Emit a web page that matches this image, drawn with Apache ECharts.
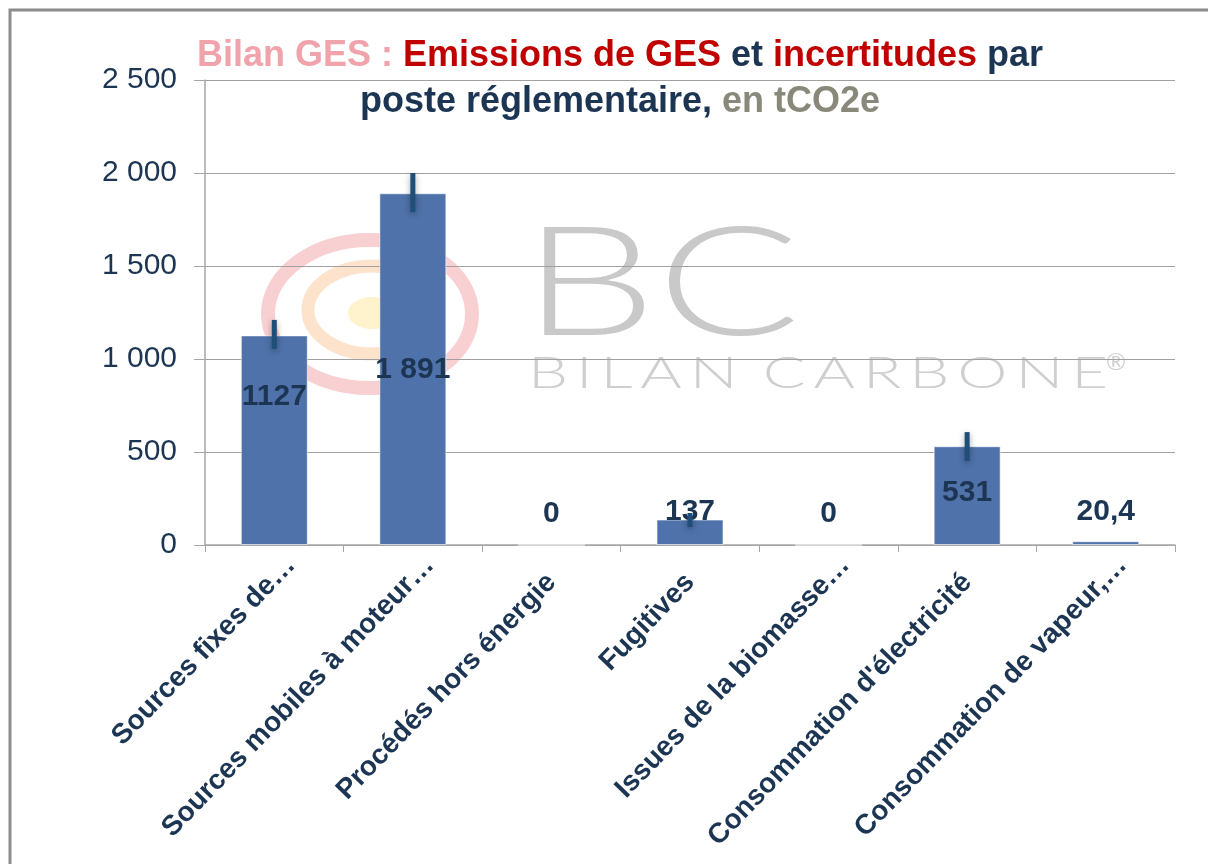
<!DOCTYPE html>
<html>
<head>
<meta charset="utf-8">
<title>Bilan GES</title>
<script src="https://cdn.jsdelivr.net/npm/echarts@6/dist/echarts.min.js"></script>
<style>
  html, body { margin: 0; padding: 0; background: #fff; }
  #main { width: 1208px; height: 864px; }
</style>
</head>
<body>
<div id="main"></div>
<script>
var categories = ['Sources fixes de…', 'Sources mobiles à moteur…', 'Procédés hors énergie', 'Fugitives',
    'Issues de la biomasse…', "Consommation d'électricité", 'Consommation de vapeur,…'];
var emissions = [1127, 1891, 0, 137, 0, 531, 20.4];
var labelTexts = ['1127', '1 891', '0', '137', '0', '531', '20,4'];
var errLow = [73, 101, 0, 40, 0, 79, 0];
var errHigh = [83, 109, 0, 35, 0, 76, 0];
var yTicks = [0, 500, 1000, 1500, 2000, 2500];

// placement des etiquettes (comme sur l'original, bougees a la main)
var labelPlace = [
    {position: 'insideTop', distance: 46},
    {position: 'insideTop', distance: 161},
    {position: 'top', distance: 16},
    {position: 'top', distance: -7},
    {position: 'top', distance: 16},
    {position: 'insideTop', distance: 32},
    {position: 'top', distance: 14}
];

var navy = '#1C3553';

var barData = emissions.map(function (v, i) {
    return {
        value: v,
        label: {
            position: labelPlace[i].position,
            distance: labelPlace[i].distance,
            formatter: labelTexts[i]
        }
    };
});

// les libelles tronques par Excel sont un peu decales vers la droite
var axisData = categories.map(function (c) {
    if (c.slice(-1) === '…') {
        return {value: c, textStyle: {padding: [0, -24, 0, 0]}};
    }
    return c;
});

var errData = [];
emissions.forEach(function (v, i) {
    if (errLow[i] > 0 || errHigh[i] > 0) {
        errData.push([i, v - errLow[i], v + errHigh[i]]);
    }
});

var myChart = echarts.init(document.getElementById('main'));
var titleFont = {fontSize: 36, fontWeight: 'bold', fontFamily: 'Liberation Sans', lineHeight: 46};
var option = {
    backgroundColor: '#fff',
    animation: false,
    title: {
        left: 615,
        top: 28,
        textAlign: 'center',
        text: '{a|Bilan GES : }{b|Emissions de GES}{c| et }{b|incertitudes}{c| par}\n{c|poste réglementaire, }{d|en tCO2e}',
        textStyle: {
            rich: {
                a: Object.assign({color: '#F0A3AB'}, titleFont),
                b: Object.assign({color: '#C00000'}, titleFont),
                c: Object.assign({color: navy}, titleFont),
                d: Object.assign({color: '#8A887A'}, titleFont)
            }
        },
        z: 10
    },
    graphic: [
        // cadre
        {type: 'rect', shape: {x: 10, y: 10, width: 1400, height: 1000},
            style: {fill: 'none', stroke: '#8C8C8C', lineWidth: 3}, z: -5},
        // logo en filigrane
        {type: 'ellipse', shape: {cx: 370, cy: 314, rx: 102, ry: 74},
            style: {fill: 'none', stroke: 'rgba(238,120,125,0.35)', lineWidth: 14}, z: -5},
        {type: 'ellipse', shape: {cx: 372, cy: 310, rx: 64, ry: 44},
            style: {fill: 'none', stroke: 'rgba(248,175,105,0.35)', lineWidth: 13}, z: -5},
        {type: 'ellipse', shape: {cx: 372, cy: 313, rx: 24, ry: 16},
            style: {fill: 'rgba(255,225,130,0.4)'}, z: -5},
        {type: 'text', x: 522, y: 210, scaleX: 1.4, z: -5,
            style: {text: 'BC', fontSize: 152, fontWeight: 300, fontFamily: 'Lato', fill: '#C9C9C9'}},
        {type: 'text', x: 528, y: 352, scaleX: 1.44, z: -5,
            style: {text: 'B\u2009I\u2009L\u2009A\u2009N\u2009 C\u2009A\u2009R\u2009B\u2009O\u2009N\u2009E', fontSize: 44, fontWeight: 300, fontFamily: 'Lato', fill: '#CFCFCF'}},
        {type: 'text', x: 1106, y: 350, z: -5,
            style: {text: '®', fontSize: 24, fontFamily: 'Lato', fill: '#CFCFCF'}}
    ],
    grid: {
        left: 205,
        right: 33,
        top: 80,
        bottom: 319
    },
    xAxis: {
        type: 'category',
        data: axisData,
        axisLine: {lineStyle: {color: '#A6A6A6', width: 1.5}},
        axisTick: {show: true, length: 7, lineStyle: {color: '#A6A6A6'}},
        axisLabel: {
            interval: 0,
            rotate: 46,
            margin: 33,
            color: navy,
            fontSize: 28,
            fontWeight: 'bold',
            fontFamily: 'Liberation Sans'
        }
    },
    yAxis: {
        type: 'value',
        min: yTicks[0],
        max: yTicks[yTicks.length - 1],
        interval: 500,
        axisLine: {show: true, lineStyle: {color: '#A6A6A6', width: 1.5}},
        axisTick: {show: true, length: 11, lineStyle: {color: '#A6A6A6'}},
        splitLine: {lineStyle: {color: '#A0A0A0', width: 1}},
        axisLabel: {
            margin: 28,
            color: navy,
            fontSize: 30,
            fontFamily: 'Liberation Sans',
            formatter: function (v) {
                return String(v).replace(/\B(?=(\d{3})+(?!\d))/g, ' ');
            }
        }
    },
    series: [{
        name: 'Emissions',
        type: 'bar',
        barWidth: 67,
        data: barData,
        itemStyle: {
            color: '#4E72A9',
            borderColor: 'rgba(255,255,255,0.6)',
            borderWidth: 1
        },
        label: {
            show: true,
            color: navy,
            fontSize: 30,
            fontWeight: 'bold',
            fontFamily: 'Liberation Sans'
        },
        z: 2
    }, {
        name: 'Incertitudes',
        type: 'custom',
        data: errData,
        renderItem: function (params, api) {
            var lo = api.coord([api.value(0), api.value(1)]);
            var hi = api.coord([api.value(0), api.value(2)]);
            return {
                type: 'line',
                shape: {x1: lo[0], y1: lo[1], x2: hi[0], y2: hi[1]},
                style: {
                    stroke: '#1F4E79',
                    lineWidth: 5,
                    shadowBlur: 6,
                    shadowColor: 'rgba(0,0,0,0.35)',
                    shadowOffsetY: 2
                }
            };
        },
        z: 3
    }]
};
myChart.setOption(option);
</script>
</body>
</html>
